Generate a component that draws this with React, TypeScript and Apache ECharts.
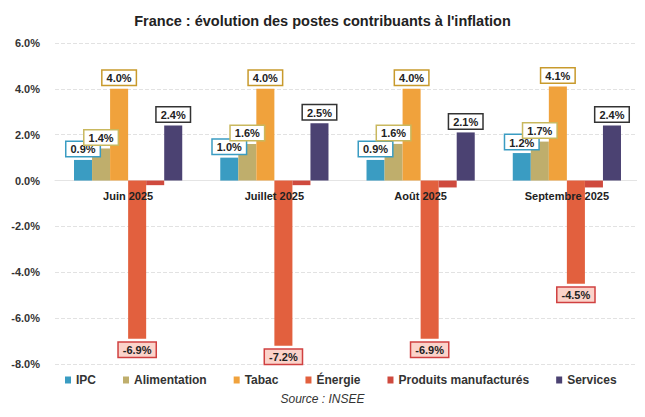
import React, { useEffect, useRef } from "react";
import * as echarts from "echarts";

const categories = ["Juin 2025", "Juillet 2025", "Août 2025", "Septembre 2025"];
const ipc = [0.9, 1.0, 0.9, 1.2];
const alimentation = [1.4, 1.6, 1.6, 1.7];
const tabac = [4.0, 4.0, 4.0, 4.1];
const energie = [-6.9, -7.2, -6.9, -4.5];
const produits = [-0.2, -0.2, -0.3, -0.3];
const services = [2.4, 2.5, 2.1, 2.4];
const seriesNames = ["IPC", "Alimentation", "Tabac", "Énergie", "Produits manufacturés", "Services"];
const yTicks = { min: -8, max: 6, interval: 2 };

const FONT = "'Liberation Sans', Arial, sans-serif";

function lbl(border: string, bg: string, position: string, show = true) {
  return {
    show,
    position,
    distance: 4,
    formatter: (p: any) => p.value.toFixed(1) + "%",
    fontFamily: FONT,
    fontWeight: "bold",
    fontSize: 11,
    color: "#222",
    backgroundColor: bg,
    borderColor: border,
    borderWidth: 1.5,
    padding: [2, 4, 1, 4],
  };
}

export default function App() {
  const ref = useRef<HTMLDivElement>(null);
  useEffect(() => {
    const chart = echarts.init(ref.current!, undefined, { renderer: "svg" });
    const mk = (name: string, data: number[], color: string, label: any) => ({
      name,
      type: "bar",
      data,
      barGap: "0%",
      barCategoryGap: "26%",
      itemStyle: { color },
      label,
    });
    chart.setOption({
      animation: false,
      backgroundColor: "#fff",
      title: {
        text: "France : évolution des postes contribuants à l'inflation",
        left: "center",
        top: 8,
        textStyle: { fontFamily: FONT, fontSize: 14.5, fontWeight: "bold", color: "#222" },
      },
      grid: { left: 55, right: 5, top: 43, bottom: 53 },
      legend: {
        data: seriesNames,
        bottom: 26,
        left: 60,
        itemWidth: 6,
        itemHeight: 7,
        itemGap: 27,
        icon: "rect",
        textStyle: { fontFamily: FONT, fontSize: 12, fontWeight: "bold", color: "#333" },
      },
      graphic: [
        {
          type: "text",
          left: "center",
          top: 393,
          style: {
            text: "Source : INSEE",
            font: "italic 12px " + FONT,
            fill: "#333",
          },
        },
      ],
      xAxis: {
        type: "category",
        data: categories,
        axisLine: { show: true, onZero: true, lineStyle: { color: "#e4e4e4" } },
        axisTick: { show: false },
        axisLabel: { show: false },
      },
      yAxis: {
        type: "value",
        min: yTicks.min,
        max: yTicks.max,
        interval: yTicks.interval,
        axisLabel: {
          formatter: (v: number) => v.toFixed(1) + "%",
          fontFamily: FONT,
          fontWeight: "bold",
          fontSize: 11,
          color: "#333",
          margin: 15,
        },
        splitLine: { lineStyle: { color: "#e2e2e2", type: "dashed" } },
        axisLine: { show: false },
        axisTick: { show: false },
      },
      series: [
        mk(seriesNames[0], ipc, "#3a9cc2", lbl("#3a9cc2", "#fff", "top")),
        mk(seriesNames[1], alimentation, "#bfae6c", lbl("#c9b85e", "#fff", "top")),
        mk(seriesNames[2], tabac, "#f0a23c", lbl("#c89a2c", "#fff", "top")),
        mk(seriesNames[3], energie, "#e2603e", lbl("#d04040", "#fbd3ca", "bottom")),
        mk(seriesNames[4], produits, "#cf4a3e", { show: false }),
        mk(seriesNames[5], services, "#4b4272", lbl("#333", "#fff", "top")),
        {
          name: "catLabels",
          type: "custom",
          silent: true,
          z: 10,
          data: categories.map((_, i) => [i, 0]),
          encode: { x: 0, y: 1 },
          renderItem: (params: any, api: any) => {
            const p = api.coord([api.value(0), 0]);
            return {
              type: "text",
              x: p[0],
              y: p[1] + 10,
              style: {
                text: categories[params.dataIndex],
                font: "bold 11px " + FONT,
                fill: "#222",
                align: "center",
                verticalAlign: "top",
              },
            };
          },
        },
      ],
    });
    return () => chart.dispose();
  }, []);
  return <div ref={ref} style={{ width: 645, height: 417, margin: -8 }} />;
}
